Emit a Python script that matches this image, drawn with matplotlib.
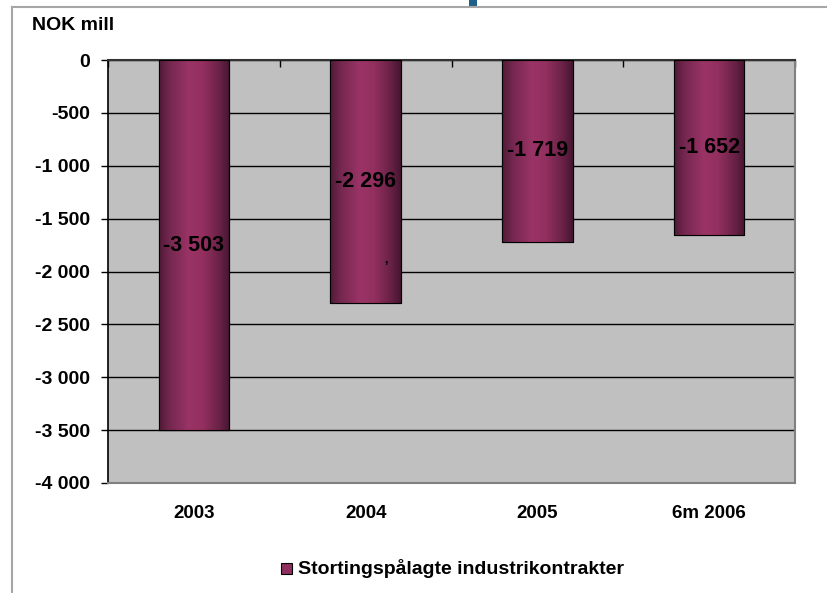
import matplotlib
matplotlib.use("Agg")
import matplotlib.pyplot as plt
import numpy as np
from matplotlib.colors import LinearSegmentedColormap
from matplotlib.lines import Line2D
from matplotlib.patches import Rectangle

categories = ["2003", "2004", "2005", "6m 2006"]
values = [-3503, -2296, -1719, -1652]
series_name = "Stortingspålagte industrikontrakter"
y_ticks = [0, -500, -1000, -1500, -2000, -2500, -3000, -3500, -4000]

plt.rcParams["font.family"] = ["Liberation Sans", "DejaVu Sans"]
plt.rcParams["font.weight"] = "bold"

BAR_CMAP = LinearSegmentedColormap.from_list(
    "bar", [(0.0, "#501a38"), (0.15, "#74284f"), (0.42, "#9a3366"),
            (0.62, "#93305f"), (0.85, "#6a2247"), (1.0, "#451530")])

fig = plt.figure(figsize=(8.27, 5.93), dpi=100)
ax = fig.add_axes([0.1306, 0.1855, 0.8307, 0.7133])
ax.set_facecolor("#c0c0c0")

x = np.arange(len(categories))
bars = ax.bar(x, values, width=0.41, color="#993366", edgecolor="black",
              linewidth=0.8, zorder=3)

# horizontal shading on each bar, clipped to the bar rectangle
grad = np.linspace(0, 1, 256).reshape(1, -1)
for b in bars:
    x0, w = b.get_x(), b.get_width()
    im = ax.imshow(grad, cmap=BAR_CMAP, aspect="auto", zorder=3.5,
                   extent=[x0, x0 + w, b.get_y() + b.get_height(), b.get_y()])
    im.set_clip_path(b)
    outline = Rectangle((x0, b.get_y()), w, b.get_height(), fill=False,
                        edgecolor="black", linewidth=0.8, zorder=4)
    ax.add_patch(outline)

for xi, v in zip(x, values):
    ax.text(xi, v / 2, f"{v:,}".replace(",", " "), ha="center", va="center",
            fontsize=15.5, fontweight="bold", color="black", zorder=5)
ax.text(1.12, -1890, ",", ha="center", va="center", fontsize=9, zorder=5)

ax.set_xlim(-0.5, len(categories) - 0.5)
ax.set_ylim(-4000, 0)
ax.set_yticks(y_ticks)
ax.set_yticklabels([f"{t:,}".replace(",", " ") for t in y_ticks], fontsize=14,
                   fontweight="bold")
ax.yaxis.grid(True, color="black", linewidth=1.0, zorder=1)
ax.set_axisbelow(True)
ax.tick_params(axis="y", direction="out", length=5, width=1, pad=8,
               color="black")

ax.set_xticks(x)
ax.set_xticklabels(categories, fontsize=13.5, fontweight="bold")
ax.tick_params(axis="x", bottom=False, length=0, pad=16)
ax.set_xticks(np.arange(len(categories) + 1) - 0.5, minor=True)
ax.tick_params(axis="x", which="minor", top=True, bottom=False,
               direction="in", length=5, width=1, color="black")

ax.spines["left"].set_color("black")
ax.spines["left"].set_linewidth(1.2)
ax.spines["top"].set_color("#333333")
ax.spines["top"].set_linewidth(1.5)
ax.spines["bottom"].set_color("#808080")
ax.spines["bottom"].set_linewidth(1.5)
ax.spines["right"].set_color("#808080")
ax.spines["right"].set_linewidth(1.5)

fig.text(32 / 827, 1 - 25 / 593, "NOK mill", ha="left", va="center",
         fontsize=14, fontweight="bold")

# legend
fig.patches.append(Rectangle((281 / 827, 1 - 574 / 593), 11 / 827, 11 / 593,
                             transform=fig.transFigure, facecolor="#8e2f5e",
                             edgecolor="black", linewidth=0.8))
fig.text(298 / 827, 1 - 568 / 593, series_name, ha="left", va="center",
         fontsize=14, fontweight="bold")

# slide frame and cut-off title mark
fig.add_artist(Line2D([12 / 827, 1], [1 - 7 / 593, 1 - 7 / 593],
                      transform=fig.transFigure, color="#a6a6a6", linewidth=1.5))
fig.add_artist(Line2D([12 / 827, 12 / 827], [0, 1 - 7 / 593],
                      transform=fig.transFigure, color="#a6a6a6", linewidth=1.5))
fig.patches.append(Rectangle((469 / 827, 1 - 6 / 593), 8 / 827, 6 / 593,
                             transform=fig.transFigure, facecolor="#1f5f8b",
                             edgecolor="none"))

fig.savefig("out.png", dpi=100)
plt.close(fig)
